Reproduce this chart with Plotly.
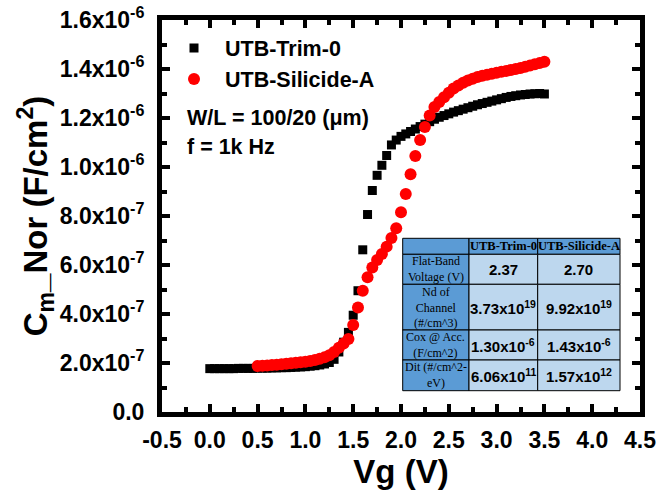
import plotly.graph_objects as go

# ---------------- data ----------------
vg_trim = [round(0.05 * i, 2) for i in range(0, 71)]  # 0.00 .. 3.50
c_trim = [
    1.77, 1.77, 1.77, 1.77, 1.77, 1.77, 1.78, 1.78, 1.78, 1.78,
    1.79, 1.79, 1.79, 1.80, 1.80, 1.81, 1.81, 1.82, 1.83, 1.84,
    1.85, 1.87, 1.89, 1.92, 1.96, 2.02, 2.15, 2.45, 2.85, 3.25,
    3.95, 4.95, 6.62, 8.06, 9.04, 9.66, 10.07, 10.47, 10.90, 11.10,
    11.25, 11.35, 11.45, 11.55, 11.65, 11.75, 11.85, 11.95, 12.03, 12.10,
    12.17, 12.24, 12.30, 12.36, 12.42, 12.48, 12.54, 12.59, 12.64, 12.69,
    12.74, 12.79, 12.84, 12.88, 12.91, 12.94, 12.96, 12.98, 12.99, 13.00,
    12.98,
]
c_trim = [v * 1e-7 for v in c_trim]

vg_sil = [round(0.5 + 0.05 * i, 2) for i in range(0, 61)]  # 0.50 .. 3.50
c_sil = [
    1.88, 1.89, 1.90, 1.92, 1.93, 1.95, 1.97, 1.99, 2.01, 2.03,
    2.05, 2.08, 2.12, 2.17, 2.23, 2.32, 2.45, 2.62, 2.80, 2.98,
    3.55, 4.27, 4.95, 5.50, 5.90, 6.20, 6.45, 6.75, 7.10, 7.50,
    8.15, 8.90, 9.70, 10.45, 11.10, 11.63, 12.10, 12.45, 12.65, 12.85,
    13.03, 13.20, 13.33, 13.44, 13.53, 13.60, 13.67, 13.72, 13.77, 13.81,
    13.85, 13.89, 13.92, 13.96, 14.00, 14.04, 14.09, 14.14, 14.19, 14.24,
    14.30,
]
c_sil = [v * 1e-7 for v in c_sil]

x_ticks = [-0.5, 0.0, 0.5, 1.0, 1.5, 2.0, 2.5, 3.0, 3.5, 4.0, 4.5]
x_ticktext = ["-0.5", "0.0", "0.5", "1.0", "1.5", "2.0", "2.5", "3.0", "3.5", "4.0", "4.5"]
y_ticks = [0, 2e-7, 4e-7, 6e-7, 8e-7, 1.0e-6, 1.2e-6, 1.4e-6, 1.6e-6]
y_ticktext = ["0.0", "2.0x10<sup>-7</sup>", "4.0x10<sup>-7</sup>", "6.0x10<sup>-7</sup>",
              "8.0x10<sup>-7</sup>", "1.0x10<sup>-6</sup>", "1.2x10<sup>-6</sup>",
              "1.4x10<sup>-6</sup>", "1.6x10<sup>-6</sup>"]

series_names = ["UTB-Trim-0", "UTB-Silicide-A"]

table_header = ["", "UTB-Trim-0", "UTB-Silicide-A"]
table_rows = ["Flat-Band<br>Voltage (V)", "Nd of<br>Channel<br>(#/cm^3)",
              "Cox @ Acc.<br>(F/cm^2)", "Dit (#/cm^2-<br>eV)"]
table_trim = ["2.37", "3.73x10<sup>19</sup>", "1.30x10<sup>-6</sup>", "6.06x10<sup>11</sup>"]
table_sil = ["2.70", "9.92x10<sup>19</sup>", "1.43x10<sup>-6</sup>", "1.57x10<sup>12</sup>"]

# ---------------- figure ----------------
W, H = 660, 491
L, R, T, B = 162, 20, 20, 79
pw, ph = W - L - R, H - T - B


def px(x):
    return (x - L) / pw


def py(y):
    return 1 - (y - T) / ph


FONT = "Liberation Sans, Arial, sans-serif"
SERIF = "Liberation Serif, Times New Roman, serif"

fig = go.Figure()
fig.add_trace(go.Scatter(x=vg_trim, y=c_trim, mode="markers", name="\u00a0" + series_names[0],
                         marker=dict(symbol="square", size=9, color="black", line=dict(width=0))))
fig.add_trace(go.Scatter(x=vg_sil, y=c_sil, mode="markers", name="\u00a0" + series_names[1],
                         marker=dict(symbol="circle", size=12, color="#ff0000", line=dict(width=0))))

axis_common = dict(
    showline=True, linewidth=5, linecolor="black", mirror="ticks",
    ticks="inside", ticklen=8, tickwidth=4, tickcolor="black",
    showgrid=False, zeroline=False, automargin=False,
    tickfont=dict(family=FONT, size=23, color="black", weight="bold"),
)

fig.update_xaxes(range=[-0.5, 4.5], tickvals=x_ticks, ticktext=x_ticktext,
                 minor=dict(ticks="inside", ticklen=5, tickwidth=4, tickcolor="black", dtick=0.25,
                            tick0=-0.5),
                 title=dict(text="Vg (V)", font=dict(family=FONT, size=33, color="black", weight="bold"),
                            standoff=9),
                 ticklabelstandoff=3,
                 **axis_common)
fig.update_yaxes(range=[0, 1.6e-6], tickvals=y_ticks, ticktext=y_ticktext,
                 minor=dict(ticks="inside", ticklen=5, tickwidth=4, tickcolor="black", dtick=1e-7,
                            tick0=0),
                 title=dict(text="C<sub>m</sub>_Nor (F/cm<sup>2</sup>)",
                            font=dict(family=FONT, size=33, color="black", weight="bold"),
                            standoff=4),
                 ticklabelstandoff=8,
                 **axis_common)

fig.update_layout(
    width=W, height=H,
    margin=dict(l=L, r=R, t=T, b=B, autoexpand=False),
    plot_bgcolor="white", paper_bgcolor="white",
    showlegend=True,
    legend=dict(x=px(169), y=py(27.5), xanchor="left", yanchor="top",
                bgcolor="rgba(0,0,0,0)", borderwidth=0, itemwidth=40,
                font=dict(family=FONT, size=21.5, color="black", weight="bold"),
                tracegroupgap=0),
)

# text labels
fig.add_annotation(x=px(185), y=py(118), xref="paper", yref="paper", xanchor="left", yanchor="middle",
                   text="W/L = 100/20 (\u03bcm)", showarrow=False,
                   font=dict(family=FONT, size=21.5, color="black", weight="bold"))
fig.add_annotation(x=px(185), y=py(147), xref="paper", yref="paper", xanchor="left", yanchor="middle",
                   text="f = 1k Hz", showarrow=False,
                   font=dict(family=FONT, size=21.5, color="black", weight="bold"))

# table
col_x = [402.7, 469, 537.7, 620]
row_y = [238.3, 254.3, 284.3, 330, 360, 390.7]
HEAD = "#5b9bd5"
CELL = "#bdd7ee"
for r in range(5):
    for c in range(3):
        fill = HEAD if (r == 0 or c == 0) else CELL
        fig.add_shape(type="rect", xref="paper", yref="paper",
                      x0=px(col_x[c]), x1=px(col_x[c + 1]), y0=py(row_y[r + 1]), y1=py(row_y[r]),
                      fillcolor=fill, line=dict(color="black", width=1), layer="above")


def cell_center(r, c):
    return px((col_x[c] + col_x[c + 1]) / 2), py((row_y[r] + row_y[r + 1]) / 2)


def cell_text(r, c, text, font):
    x, y = cell_center(r, c)
    fig.add_annotation(x=x, y=y, xref="paper", yref="paper", xanchor="center", yanchor="middle",
                       text=text, showarrow=False, font=font, borderpad=0)


for c in range(1, 3):
    cell_text(0, c, table_header[c], dict(family=SERIF, size=12.5, color="black", weight="bold"))
for r in range(4):
    cell_text(r + 1, 0, table_rows[r], dict(family=SERIF, size=12, color="black"))
    cell_text(r + 1, 1, table_trim[r], dict(family=FONT, size=15, color="black", weight="bold"))
    cell_text(r + 1, 2, table_sil[r], dict(family=FONT, size=15, color="black", weight="bold"))

fig.write_html("out.html", config={"displayModeBar": False},
               post_script="document.body.style.margin='0';document.body.style.padding='0';")
